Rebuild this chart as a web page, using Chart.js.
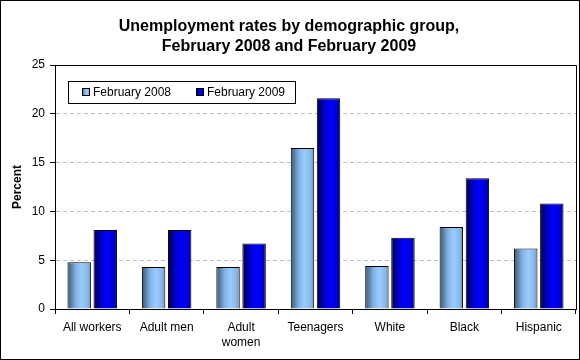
<!DOCTYPE html>
<html>
<head>
<meta charset="utf-8">
<script src="https://cdn.jsdelivr.net/npm/chart.js@4/dist/chart.umd.min.js"></script>
<style>
  html, body { margin: 0; padding: 0; background: #fff; }
  #wrap { width: 580px; height: 360px; position: relative; }
</style>
</head>
<body>
<div id="wrap"><canvas id="c" width="580" height="360"></canvas></div>
<script>
const titleLines = ["Unemployment rates by demographic group,", "February 2008 and February 2009"];
const categories = ["All workers", "Adult men", ["Adult", "women"], "Teenagers", "White", "Black", "Hispanic"];
const seriesNames = ["February 2008", "February 2009"];
const feb2008 = [4.8, 4.3, 4.3, 16.5, 4.4, 8.4, 6.2];
const feb2009 = [8.1, 8.1, 6.7, 21.6, 7.3, 13.4, 10.8];
const yTicks = [0, 5, 10, 15, 20, 25];

const CAT_PCT = 0.70;
const BAR_PCT = 0.90;
const FONT = "'Liberation Sans', Arial, sans-serif";

const stops2008 = [[0, '#3a5570'], [0.35, '#82b2e2'], [0.6, '#99ccff'], [0.85, '#8ab8e8'], [1, '#6d8fb3']];
const stops2009 = [[0, '#000044'], [0.35, '#0000d4'], [0.6, '#0000ff'], [0.85, '#0000d0'], [1, '#000090']];

function barGradient(ctx, stops) {
  const chart = ctx.chart;
  const xs = chart.scales && chart.scales.x;
  if (!xs || ctx.dataIndex === undefined || !chart.chartArea) return stops[2][1];
  const catW = (xs.right - xs.left) / categories.length;
  const slot = catW * CAT_PCT / 2;
  const w = slot * BAR_PCT;
  const c = xs.getPixelForValue(ctx.dataIndex) + (ctx.datasetIndex === 0 ? -slot / 2 : slot / 2);
  const g = chart.ctx.createLinearGradient(c - w / 2, 0, c + w / 2, 0);
  stops.forEach(s => g.addColorStop(s[0], s[1]));
  return g;
}

const framePlugin = {
  id: 'frame',
  afterDraw(chart) {
    const ctx = chart.ctx;
    const a = chart.chartArea;
    ctx.save();
    ctx.strokeStyle = '#000';
    ctx.lineWidth = 1;
    // outer border
    ctx.strokeRect(0.5, 0.5, chart.width - 1, chart.height - 1);
    // plot area top and right
    ctx.beginPath();
    ctx.moveTo(Math.round(a.left) + 0.5, Math.round(a.top) + 0.5);
    ctx.lineTo(Math.round(a.right) + 0.5, Math.round(a.top) + 0.5);
    ctx.lineTo(Math.round(a.right) + 0.5, Math.round(a.bottom) + 0.5);
    ctx.stroke();

    // legend box
    const lx = Math.round(a.left) + 13, ly = Math.round(a.top) + 16, lw = 227, lh = 22;
    ctx.fillStyle = '#fff';
    ctx.fillRect(lx, ly, lw, lh);
    ctx.strokeRect(lx + 0.5, ly + 0.5, lw, lh);
    const items = [
      { name: seriesNames[0], stops: stops2008, x: lx + 14 },
      { name: seriesNames[1], stops: stops2009, x: lx + 128 }
    ];
    ctx.font = '12px ' + FONT;
    ctx.textBaseline = 'middle';
    ctx.textAlign = 'left';
    items.forEach(it => {
      const sx = it.x, sy = ly + 7, s = 8;
      const g = ctx.createLinearGradient(sx, 0, sx + s, 0);
      it.stops.forEach(st => g.addColorStop(st[0], st[1]));
      ctx.fillStyle = g;
      ctx.fillRect(sx, sy, s, s);
      ctx.strokeStyle = '#000';
      ctx.strokeRect(sx + 0.5, sy + 0.5, s - 1, s - 1);
      ctx.fillStyle = '#000';
      ctx.fillText(it.name, sx + 11, ly + lh / 2 + 1);
    });
    ctx.restore();
  }
};

new Chart(document.getElementById('c'), {
  type: 'bar',
  data: {
    labels: categories,
    datasets: [
      {
        label: seriesNames[0],
        data: feb2008,
        backgroundColor: (c) => barGradient(c, stops2008),
        borderColor: '#000',
        borderWidth: 1,
        borderSkipped: 'bottom',
        categoryPercentage: CAT_PCT,
        barPercentage: BAR_PCT
      },
      {
        label: seriesNames[1],
        data: feb2009,
        backgroundColor: (c) => barGradient(c, stops2009),
        borderColor: '#000',
        borderWidth: 1,
        borderSkipped: 'bottom',
        categoryPercentage: CAT_PCT,
        barPercentage: BAR_PCT
      }
    ]
  },
  options: {
    responsive: false,
    animation: false,
    devicePixelRatio: 1,
    layout: { padding: { left: 2, right: 4, top: 0, bottom: 0 } },
    plugins: {
      legend: { display: false },
      tooltip: { enabled: false },
      title: {
        display: true,
        text: titleLines,
        color: '#000',
        font: { family: FONT, size: 16, weight: 'bold', lineHeight: 1.25 },
        padding: { top: 17, bottom: 8 }
      }
    },
    scales: {
      x: {
        grid: {
          display: true,
          offset: true,
          drawOnChartArea: false,
          drawTicks: true,
          tickLength: 5,
          tickColor: '#000',
          color: '#000'
        },
        border: { display: true, color: '#000', width: 1 },
        ticks: {
          color: '#000',
          font: { family: FONT, size: 12, lineHeight: 1.25 },
          padding: 6,
          maxRotation: 0,
          autoSkip: false
        },
        afterFit(scale) { scale.height = 51; }
      },
      y: {
        min: 0,
        max: 25,
        afterBuildTicks(scale) { scale.ticks = yTicks.map(v => ({ value: v })); },
        grid: {
          display: true,
          color: '#c0c0c0',
          lineWidth: 1,
          tickColor: '#000',
          tickLength: 5,
          tickBorderDash: []
        },
        border: { display: true, color: '#000', width: 1, dash: [4, 3] },
        ticks: {
          color: '#000',
          font: { family: FONT, size: 12 },
          padding: 5
        },
        title: {
          display: true,
          text: 'Percent',
          color: '#000',
          font: { family: FONT, size: 12, weight: 'bold' },
          padding: { top: 8, bottom: 0 }
        },
        afterFit(scale) { scale.width = 53; }
      }
    }
  },
  plugins: [framePlugin]
});
</script>
</body>
</html>
